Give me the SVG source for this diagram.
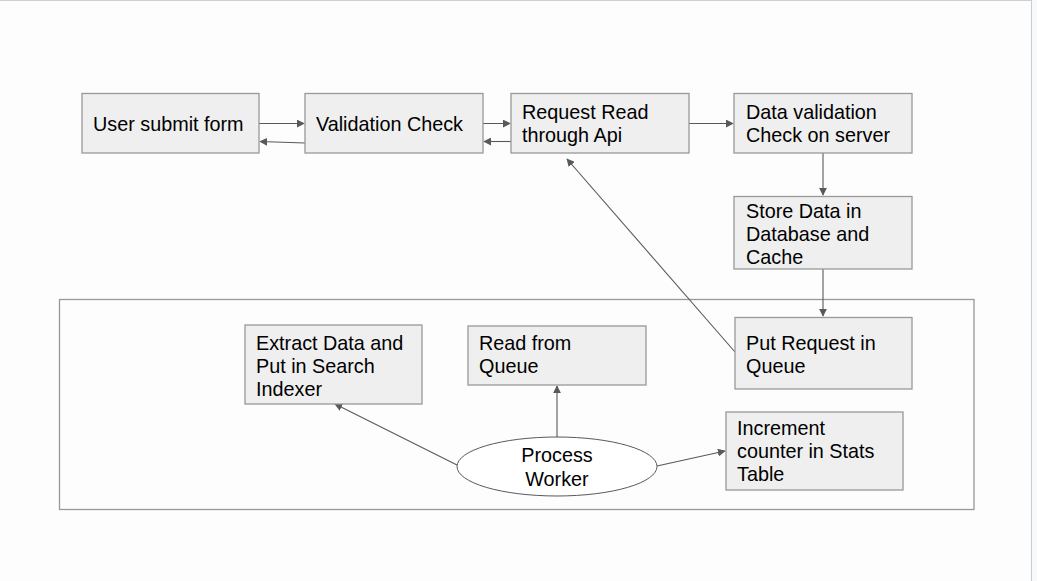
<svg xmlns="http://www.w3.org/2000/svg" width="1037" height="581" viewBox="0 0 1037 581">
<style>
.box{fill:#efefef;stroke:#999999;stroke-width:1.3}
.ell{fill:#ffffff;stroke:#595959;stroke-width:1}
.frame{fill:none;stroke:#999999;stroke-width:1.3}
.t{font-family:"Liberation Sans",Arial,sans-serif;font-size:19.8px;fill:#000000}
.c{fill:none;stroke:#595959;stroke-width:1.1;marker-end:url(#ah)}
</style>
<defs>
<marker id="ah" viewBox="0 0 10 10" refX="9" refY="5" markerWidth="8" markerHeight="8" markerUnits="userSpaceOnUse" orient="auto">
<path d="M0,0 L10,5 L0,10 z" fill="#595959"/>
</marker>
</defs>
<rect x="0" y="0" width="1037" height="581" fill="#f8f9fa"/>
<rect x="0" y="0" width="1031" height="581" fill="#fdfdfd"/>
<line x1="0" y1="0.5" x2="1031" y2="0.5" stroke="#d0d0d0"/>
<line x1="1031.5" y1="0" x2="1031.5" y2="581" stroke="#cccccc"/>
<g id="frame"><rect class="frame" x="59.5" y="299.5" width="914.5" height="210"/></g>
<g id="connectors">
<line class="c" x1="259" y1="123.5" x2="304" y2="123.5"/>
<line class="c" x1="305" y1="143" x2="260" y2="141.5"/>
<line class="c" x1="473" y1="123.5" x2="510" y2="123.5"/>
<line class="c" x1="511" y1="141.5" x2="484" y2="141.5"/>
<line class="c" x1="689" y1="123.5" x2="733" y2="123.5"/>
<line class="c" x1="823" y1="153" x2="823" y2="195"/>
<line class="c" x1="823" y1="269" x2="823" y2="316"/>
<line class="c" x1="735" y1="352" x2="567" y2="159"/>
<line class="c" x1="457" y1="465" x2="335" y2="404"/>
<line class="c" x1="557" y1="437" x2="557" y2="386"/>
<line class="c" x1="657" y1="466" x2="725" y2="451"/>
</g>
<g id="user-submit-form"><rect class="box" x="82" y="93.5" width="177" height="59.5"/><text class="t" x="93" y="131">User submit form</text></g>
<g id="validation-check"><rect class="box" x="305" y="93.5" width="178" height="59.5"/><text class="t" x="316" y="131">Validation Check</text></g>
<g id="request-read"><rect class="box" x="511" y="93.5" width="178" height="59.5"/><text class="t" x="522" y="118.5">Request Read</text><text class="t" x="522" y="141.5">through Api</text></g>
<g id="data-validation"><rect class="box" x="734" y="93.5" width="178" height="59.5"/><text class="t" x="746" y="118.5">Data validation</text><text class="t" x="746" y="141.5">Check on server</text></g>
<g id="store-data"><rect class="box" x="734" y="196.5" width="178" height="72.5"/><text class="t" x="746" y="217.5">Store Data in</text><text class="t" x="746" y="240.5">Database and</text><text class="t" x="746" y="263.5">Cache</text></g>
<g id="extract-data"><rect class="box" x="245" y="325" width="177" height="79"/><text class="t" x="256" y="349.5">Extract Data and</text><text class="t" x="256" y="372.5">Put in Search</text><text class="t" x="256" y="395.5">Indexer</text></g>
<g id="read-from-queue"><rect class="box" x="468" y="326" width="178" height="59"/><text class="t" x="479" y="350">Read from</text><text class="t" x="479" y="373">Queue</text></g>
<g id="put-request"><rect class="box" x="735" y="317.5" width="177" height="71.5"/><text class="t" x="746" y="349.5">Put Request in</text><text class="t" x="746" y="372.5">Queue</text></g>
<g id="increment-counter"><rect class="box" x="726" y="412" width="177" height="78"/><text class="t" x="737" y="435">Increment</text><text class="t" x="737" y="458">counter in Stats</text><text class="t" x="737" y="481">Table</text></g>
<g id="process-worker"><ellipse class="ell" cx="557" cy="466.5" rx="100" ry="29.5"/><text class="t" x="557" y="462" text-anchor="middle">Process</text><text class="t" x="557" y="486" text-anchor="middle">Worker</text></g>
</svg>
